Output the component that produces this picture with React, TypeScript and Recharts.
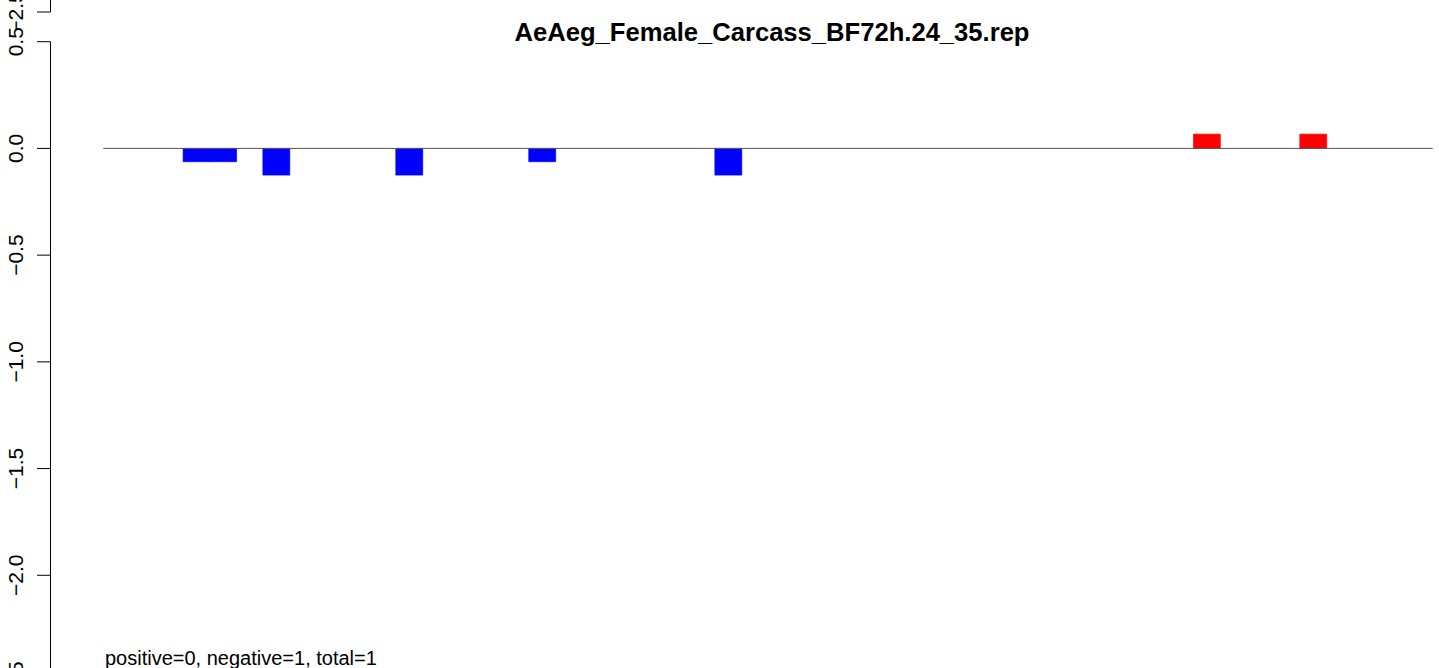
import { BarChart, Bar, XAxis, YAxis, Cell, ReferenceLine } from "recharts";

// one value per bin along the track (most bins empty)
const bins = [
  "1", "2", "3", "4", "5", "6", "7", "8", "9", "10",
  "11", "12", "13", "14", "15", "16", "17", "18", "19", "20",
  "21", "22", "23", "24", "25", "26", "27", "28", "29", "30",
  "31", "32", "33", "34", "35", "36", "37", "38", "39", "40",
  "41", "42", "43", "44", "45", "46", "47", "48", "49", "50",
];
const scores = [
  0, 0, 0, -0.0625, -0.0625, 0, -0.125, 0, 0, 0,
  0, -0.125, 0, 0, 0, 0, -0.0625, 0, 0, 0,
  0, 0, 0, -0.125, 0, 0, 0, 0, 0, 0,
  0, 0, 0, 0, 0, 0, 0, 0, 0, 0,
  0, 0.067, 0, 0, 0, 0.067, 0, 0, 0, 0,
];
const yTicks = [0.5, 0, -0.5, -1, -1.5, -2, -2.5];
const yDomain = [-2.5, 0.5];

const title = "AeAeg_Female_Carcass_BF72h.24_35.rep";
const summary = "positive=0, negative=1, total=1";

const W = 1439;
const H = 668;
const CH = 700;
const FONT = "'Liberation Sans', Arial, Helvetica, sans-serif";
const margins = { top: 41.7, right: 6.3, bottom: 18, left: 0 };

const data = bins.map((bin, i) => ({ bin, score: scores[i] }));

const fmt = (v: number) => v.toFixed(1).replace("-", "\u2212");

function RotTick(props: any) {
  const { x, y, payload } = props;
  return (
    <text
      x={x}
      y={y}
      transform={`rotate(-90 ${x} ${y})`}
      textAnchor="middle"
      fontSize={21}
      fontFamily={FONT}
      fill="#000"
    >
      {fmt(payload.value)}
    </text>
  );
}

// just the left axis; also reused (shifted up) for the tail of the panel above
function AxisPanel({ top }: { top: number }) {
  return (
    <div style={{ position: "absolute", left: 0, top }}>
      <BarChart width={W} height={CH} data={data} margin={margins}>
        <XAxis dataKey="bin" hide />
        <YAxis
          type="number"
          domain={yDomain}
          allowDataOverflow
          ticks={yTicks}
          interval={0}
          width={50.5}
          tickSize={13.5}
          tickMargin={14}
          tick={RotTick}
          axisLine={{ stroke: "#000", strokeWidth: 1 }}
          tickLine={{ stroke: "#000", strokeWidth: 1 }}
        />
      </BarChart>
    </div>
  );
}

export default function App() {
  return (
    <div
      style={{
        position: "absolute",
        left: 0,
        top: 0,
        width: W,
        height: H,
        overflow: "hidden",
        background: "#fff",
        fontFamily: FONT,
      }}
    >
      <AxisPanel top={12.3 - 682} />
      <AxisPanel top={0} />
      <div style={{ position: "absolute", left: 0, top: 0 }}>
        <BarChart
          width={W}
          height={CH}
          data={data}
          margin={{ ...margins, left: 103.3 }}
          barCategoryGap={0}
          barGap={0}
        >
          <XAxis dataKey="bin" hide />
          <YAxis domain={yDomain} hide />
          <ReferenceLine y={0} stroke="#555" strokeWidth={1} />
          <Bar dataKey="score" isAnimationActive={false}>
            {data.map((d) => (
              <Cell
                key={d.bin}
                fill={d.score >= 0 ? "#ff0000" : "#0000ff"}
                stroke={d.score >= 0 ? "#ff0000" : "#0000ff"}
                strokeWidth={d.score === 0 ? 0 : 0.6}
              />
            ))}
          </Bar>
        </BarChart>
      </div>
      <svg
        width={W}
        height={H}
        style={{ position: "absolute", left: 0, top: 0, pointerEvents: "none" }}
      >
        <text
          x={772}
          y={41}
          textAnchor="middle"
          fontSize={25.6}
          fontWeight="bold"
          fontFamily={FONT}
          fill="#000"
        >
          {title}
        </text>
        <text x={105} y={665} fontSize={20} fontFamily={FONT} fill="#000">
          {summary}
        </text>
      </svg>
    </div>
  );
}
